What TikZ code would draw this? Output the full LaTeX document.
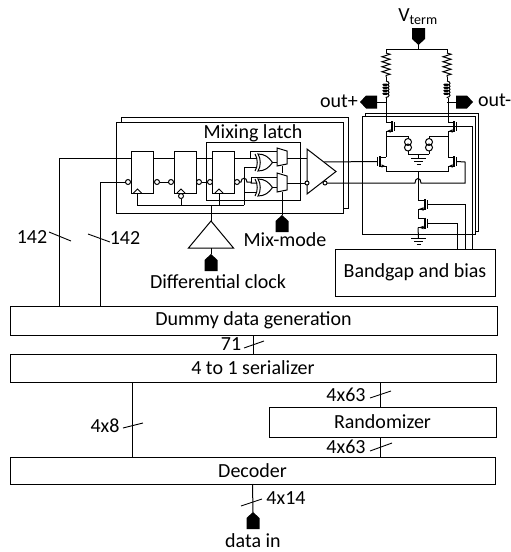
\documentclass[tikz,border=0pt]{standalone}
\usepackage{fontspec}
\setmainfont{Carlito}
\usepackage{tikz}
\usetikzlibrary{shapes.geometric,decorations.pathmorphing,positioning}

\tikzset{
    pinshape/.pic={
        \fill (0,0) -- (6.5,6) -- (6.5,17) -- (-6.5,17) -- (-6.5,6) -- cycle;
        \coordinate (-tip) at (0,0);
        \coordinate (-tail) at (0,17);
    },
    fetshape/.pic={
        \draw[line width=1.5pt] (0,-5.5) -- (0,5.5);
        \draw[wire] (2.8,-4.5) -- (2.8,4.5);
        \draw[wire] (0,-4.5) -- (-\fetlead,-4.5);
        \draw[wire] (0,4.5) -- (-\fetlead,4.5);
        \fill (-\fetlead+1,4.5) -- (-1.5,2.8) -- (-1.5,6.2) -- cycle;
        \coordinate (-d) at (-\fetlead,-4.5);
        \coordinate (-s) at (-\fetlead,4.5);
        \coordinate (-g) at (2.8,0);
    },
    xorshape/.pic={
        \draw[wire] (0,-8.5) .. controls (3,-4) and (3,4) .. (0,8.5);
        \draw[wire] (3,-8.5) .. controls (6,-4) and (6,4) .. (3,8.5) .. controls (10,8.5) and (14,5) .. (17.5,0) .. controls (14,-5) and (10,-8.5) .. (3,-8.5) -- cycle;
        \coordinate (-ina) at (2.2,-4.5);
        \coordinate (-inb) at (2.2,4.5);
        \coordinate (-out) at (17.5,0);
    }
}
\newcommand{\fetlead}{6}

\begin{document}
\begin{tikzpicture}[
    x=1pt, y=-1pt,
    wire/.style={line width=1pt},
    every node/.style={inner sep=0pt, outer sep=0pt, line width=1pt},
    blockbox/.style={rectangle, draw, fill=white, anchor=north west},
    ffbox/.style={rectangle, draw, fill=white, minimum width=22pt, minimum height=42pt},
    layerbox/.style={rectangle, draw, fill=white, anchor=north west},
    bubble/.style={circle, draw, fill=white, minimum size=5pt},
    smallbubble/.style={circle, draw, fill=white, minimum size=4pt},
    lab/.style={font=\fontsize{20}{24}\selectfont},
    ampbox/.style={isosceles triangle, isosceles triangle stretches, draw, fill=white},
    tick/.style={line width=0.9pt}]
    \useasboundingbox (0,0) rectangle (511,552);

    % stacked outlines
    \node[layerbox, minimum width=227pt, minimum height=91pt] (mixback) at (121,117) {};
    \node[layerbox, minimum width=227pt, minimum height=91pt] (mixfront) at (116,122) {};
    \node[layerbox, minimum width=113pt, minimum height=118pt] (cmlback) at (365,113) {};
    \node[layerbox, minimum width=113pt, minimum height=118pt] (cmlfront) at (362,116) {};
    \node[layerbox, minimum width=94pt, minimum height=58pt] (latch) at (206,142) {};
    \node[lab] (latchlab) at (253,133) {Mixing latch};

    % digital blocks
    \node[blockbox, minimum width=487pt, minimum height=29pt] (dummy) at (10,306) {};
    \node[lab] (dummylab) at (dummy) {Dummy data generation};
    \node[blockbox, minimum width=486pt, minimum height=28pt] (serial) at (10,354) {};
    \node[lab] (seriallab) at (serial) {4 to 1 serializer};
    \node[blockbox, minimum width=227pt, minimum height=30pt] (rand) at (269,407) {};
    \node[lab] (randlab) at (rand) {Randomizer};
    \node[blockbox, minimum width=485pt, minimum height=27pt] (decoder) at (10,457) {};
    \node[lab] (decoderlab) at (decoder) {Decoder};
    \node[blockbox, minimum width=160pt, minimum height=47pt] (bandgap) at (335,249) {};
    \node[lab] (bandgaplab) at (bandgap) {Bandgap and bias};

    % flip flops
    \node[ffbox] (ff1) at (142,172) {};
    \node[ffbox] (ff2) at (185.5,172) {};
    \node[ffbox] (ff3) at (223.5,172) {};
    \foreach \ff/\ck in {ff1/ck1, ff2/ck2, ff3/ck3} {
        \coordinate (\ck) at ([xshift=-4.5pt]\ff.south);
        \draw[wire] ([xshift=-4pt]\ck) -- ([yshift=4pt]\ck) -- ([xshift=4pt]\ck);
    }
    \node[bubble] (b1i) at (128,182) {};
    \node[bubble] (b1o) at (157,182) {};
    \node[bubble] (b2i) at (171,182) {};
    \node[bubble] (b2o) at (199,182) {};
    \node[bubble] (b3i) at (210,182) {};
    \node[bubble] (b3o) at (237,182) {};
    \node[bubble] (b2c) at (181,196) {};
    \draw[wire] (b1o) -- (b2i);
    \draw[wire] (b2o) -- (b3i);

    % xor and mux
    \pic (xu) at (255,162.5) {xorshape};
    \pic (xl) at (255,187.5) {xorshape};
    \draw[wire] (277,148) -- (287,151) -- (287,164) -- (277,166) -- cycle;
    \draw[wire] (277,173) -- (287,176) -- (287,190) -- (277,192) -- cycle;
    \coordinate (q1) at (153,158);
    \coordinate (q2) at (196,158);
    \coordinate (q3) at (234,158);
    \coordinate (d2) at (175,158);
    \coordinate (d3) at (213,158);
    \coordinate (upT) at (250,158);
    \coordinate (upM) at (277,151);
    \coordinate (loT) at (251,183);
    \coordinate (loM) at (277,177);
    \coordinate (rail) at (244,205);
    \draw[wire] (q1) -- (d2);
    \draw[wire] (q2) -- (d3);
    \draw[wire] (q3) -- (xu-ina);
    \draw[wire] (upT) |- (upM);
    \draw[wire] (b3o) -- (241,182) .. controls (241,177) and (247,177) .. (247,182) -- (251,182) -- (loT) -- (xl-ina);
    \draw[wire] (loT) |- (loM);
    \draw[wire] (xu-out) -- (277,162.5);
    \draw[wire] (xl-out) -- (277,187.5);

    % clock
    \draw[wire] (ck1) |- (rail);
    \draw[wire] (b2c) -- (b2c |- rail);
    \draw[wire] (ck3) -- (ck3 |- rail);
    \draw[wire] (ck2) -- (b2c);
    \draw[wire] (rail) |- (xu-inb);
    \draw[wire] (rail |- xl-inb) -- (xl-inb);
    \node[ampbox, shape border rotate=90, minimum width=45pt, minimum height=27pt, anchor=apex] (clkdrv) at (211,221) {};
    \draw[wire] (clkdrv.apex) -- (clkdrv.apex |- rail);
    \pic (pclk) at (211,254) {pinshape};
    \draw[wire] (clkdrv.lower side) -- (pclk-tip);
    \node[lab] (clklab) at (218,282) {Differential clock};

    % mix-mode
    \pic (pmix) at (282,215) {pinshape};
    \draw[wire] (282,166) -- (282,173);
    \draw[wire] (282,192) -- (pmix-tip);
    \node[lab] (mixlab) at (285,240) {Mix-mode};

    % driver
    \node[ampbox, minimum width=45pt, minimum height=29pt, anchor=apex] (drv) at (336,171.5) {};
    \node[smallbubble] (di) at (307,183) {};
    \node[smallbubble] (dn) at (325,183) {};
    \coordinate (dp) at (324,162);
    \draw[wire] (287,158) -- (307,158);
    \draw[wire] (287,183) -- (di);

    % bus to the latches
    \coordinate (bus1) at (59,158);
    \coordinate (bus2) at (100,182);
    \draw[wire] (dummy.north -| bus1) -- (bus1) -- (ff1.west |- bus1);
    \draw[wire] (dummy.north -| bus2) -- (bus2) -- (b1i);

    % digital connectors
    \coordinate (bus3) at (380,382);
    \coordinate (bus4) at (132,382);
    \draw[wire] (dummy.south) -- (dummy.south |- serial.north);
    \draw[wire] (bus4) -- (bus4 |- decoder.north);
    \draw[wire] (bus3) -- (bus3 |- rand.north);
    \draw[wire] (bus3 |- rand.south) -- (bus3 |- decoder.north);
    \pic (pdat) at (253,512) {pinshape};
    \draw[wire] (decoder.south) -- (pdat-tip);
    \node[lab] (datalab) at (253,541) {data in};

    % bus widths
    \foreach \xa/\ya/\xb/\yb in {49/232/71/241, 88/234/110/242, 244/348/264/341, 370/398/391/391, 123/428/143/423, 370/451/392/443, 241/506/262/499}
        \draw[tick] (\xa,\ya) -- (\xb,\yb);
    \node[lab] (w1) at (32,237) {142};
    \node[lab] (w2) at (125,238) {142};
    \node[lab] (w3) at (231,344) {71};
    \node[lab] (w4) at (346,395) {4x63};
    \node[lab] (w5) at (105,426) {4x8};
    \node[lab] (w6) at (346,447) {4x63};
    \node[lab] (w7) at (286,498) {4x14};

    % termination
    \pic[rotate=180] (pterm) at (418.5,45) {pinshape};
    \node[lab] (termlab) at (418,17) {V\textsubscript{term}};
    \coordinate (rl) at (386,49);
    \coordinate (rr) at (447,49);
    \draw[wire] (pterm-tip) -- (pterm-tip |- rl);
    \draw[wire] (rl) -- (rr);
    \foreach \r in {rl,rr} {
        \draw[wire] (\r) -- ([yshift=-4pt]\r);
        \draw[wire, decorate, decoration={zigzag, segment length=5pt, amplitude=4pt}] ([yshift=-4pt]\r) -- ([yshift=-28pt]\r);
        \draw[wire] ([yshift=-28pt]\r) -- ([yshift=-32pt]\r);
        \draw[wire, decorate, decoration={coil, aspect=0.5, segment length=3pt, amplitude=3pt}] ([yshift=-32pt]\r) -- ([yshift=-49pt]\r);
    }
    \pic[rotate=90] (pout) at (360,102) {pinshape};
    \pic[rotate=-90] (mout) at (473,102) {pinshape};
    \coordinate (outl) at (386,102);
    \coordinate (outr) at (447,102);
    \draw[wire] (pout-tail) -- (outl);
    \draw[wire] (mout-tail) -- (outr);
    \node[lab] (plab) at (339,101) {out+};
    \node[lab, anchor=west] (mlab) at (478,100) {out-};

    % output stage
    \pic (t1) at (392,126.5) {fetshape};
    \pic (t2) at (454,126.5) {fetshape};
    \pic[xscale=-1] (t3) at (380,161.5) {fetshape};
    \pic (t4) at (454,161.5) {fetshape};
    \renewcommand{\fetlead}{7}
    \pic (t5) at (425,204.5) {fetshape};
    \pic (t6) at (425,223) {fetshape};
    \coordinate (rl2) at (386,98);
    \coordinate (rr2) at (448,98);
    \coordinate (tailL) at (386,171);
    \coordinate (tailR) at (448,171);
    \coordinate (tailM) at (418,171);
    \coordinate (gnda) at (418.5,158);
    \coordinate (gndb) at (418.5,238);
    \draw[wire] (rl2) -- (t1-d);
    \draw[wire] (rr2) -- (t2-d);
    \draw[wire] (t1-s) -- (t3-d);
    \draw[wire] (t2-s) -- (t4-d);
    \draw[wire] (t3-s) -- (tailL) -- (tailR) -- (t4-s);
    \draw[wire] (tailM) -- (t5-d);
    \draw[wire] (t5-s) -- (t6-d);
    \draw[wire] (t6-s) -- (gndb);

    % current sources and grounds
    \foreach \cs/\xpos in {csa/408, csb/429} {
        \draw[wire] (\xpos,142) circle (3.5);
        \draw[wire] (\xpos,147.5) circle (3.5);
        \coordinate (\cs t) at (\xpos,138.5);
        \coordinate (\cs b) at (\xpos,151);
    }
    \draw[wire] (csat) |- (386,136);
    \draw[wire] (csbt) |- (448,136);
    \draw[wire] (csab) |- (csbb |- 0,154);
    \draw[wire] (csbb) -- (csbb |- 0,154);
    \draw[wire] (gnda |- 0,154) -- (gnda);
    \foreach \g in {gnda,gndb} {
        \draw[wire] ([xshift=-7.5pt]\g) -- ([xshift=7.5pt]\g);
        \draw[wire] ([xshift=-4.5pt,yshift=-3pt]\g) -- ([xshift=4.5pt,yshift=-3pt]\g);
        \draw[wire] ([xshift=-2pt,yshift=-6pt]\g) -- ([xshift=2pt,yshift=-6pt]\g);
    }

    % driver outputs and bias lines
    \coordinate (gtr) at (465,162);
    \coordinate (gtl) at (465,183);
    \draw[wire] (dp) -- (t3-g);
    \draw[wire] (dn) -- (415,183) .. controls (415,177) and (421,177) .. (421,183) -- (gtl) -- (gtr) -- (t4-g);
    \draw[wire] (t1-g) -- (t2-g);
    \draw[wire] (t2-g) -- (472,126.5) -- (472,249);
    \draw[wire] (t5-g) -- (465,204.5) -- (465,249);
    \draw[wire] (t6-g) -- (457,223) -- (457,249);
\end{tikzpicture}
\end{document}
